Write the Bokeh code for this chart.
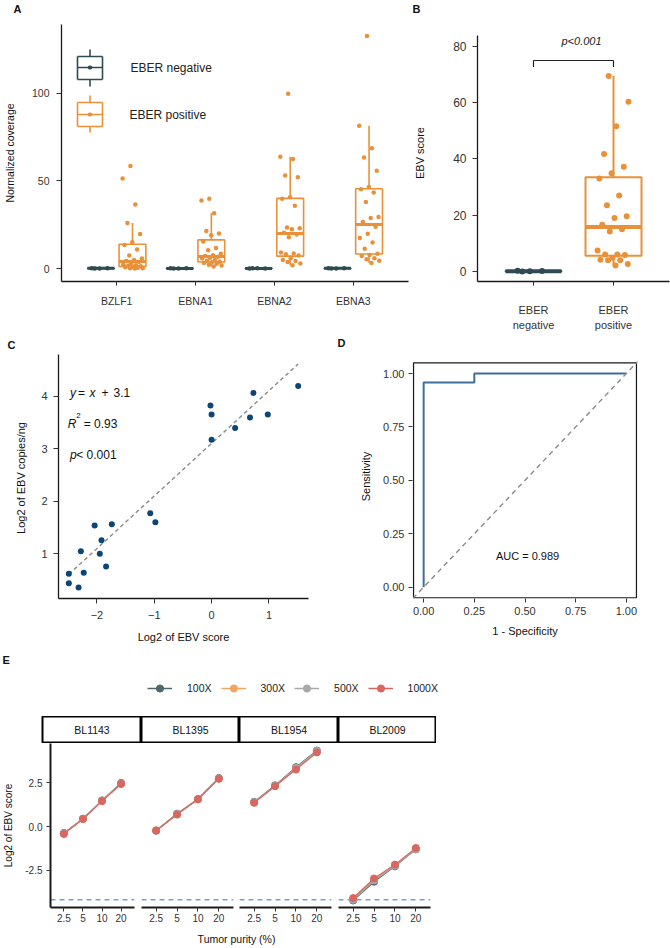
import numpy as np
from bokeh.plotting import figure
from bokeh.models import (ColumnDataSource, FactorRange, Range1d, Label, Arrow, Span, Slope,
                          Legend, LegendItem, FixedTicker, PrintfTickFormatter, CategoricalAxis,
                          CustomJSTickFormatter, BoxAnnotation)
from bokeh.layouts import row, column
from bokeh.core.properties import value
from bokeh.embed import file_html
from bokeh.resources import INLINE

# ---------------- data ----------------
genes = ["BZLF1", "EBNA1", "EBNA2", "EBNA3"]
eber_groups = ["EBER negative", "EBER positive"]

# Panel A: normalized coverage (EBER negative / EBER positive)
neg_bzlf1 = [0.05, 0.25, 0.10, 0.30]
neg_ebna1 = [0.10, 0.30, 0.05, 0.20]
neg_ebna2 = [0.20, 0.05, 0.30, 0.10]
neg_ebna3 = [0.15, 0.25, 0.05, 0.30]
pos_bzlf1 = [58.4, 51.4, 36.5, 26.0, 19.8, 15.0, 13.5, 10.9, 7.5, 5.8, 5.0, 4.4,
             3.8, 3.0, 2.5, 2.0, 1.7, 1.4, 1.0, 0.8, 0.5, 0.3, 0.2, 0.1]
pos_ebna1 = [39.8, 38.8, 31.5, 21.5, 20.0, 19.0, 15.5, 11.8, 10.5, 8.5, 7.6, 7.2,
             6.8, 6.2, 5.8, 5.0, 4.5, 3.9, 3.6, 3.2, 2.8, 2.3, 1.8, 1.2]
pos_ebna2 = [99.6, 63.7, 62.5, 53.1, 52.0, 40.6, 39.8, 35.8, 23.5, 23.0, 22.5, 20.5,
             19.5, 17.9, 9.2, 8.7, 8.2, 7.5, 6.0, 5.0, 4.3, 3.8, 3.0, 2.0]
pos_ebna3 = [132.4, 81.4, 68.5, 63.3, 55.8, 46.5, 45.2, 43.3, 38.0, 29.4, 28.8, 26.5,
             23.9, 19.9, 17.5, 14.9, 11.3, 8.5, 7.8, 7.2, 6.0, 5.3, 4.5, 3.2]

# Panel B: EBV score
ebv_score_neg = [0.05, 0.20, 0.10, 0.30]
ebv_score_pos = [69.4, 60.3, 51.6, 41.7, 37.2, 34.9, 33.0, 27.0, 23.5, 19.6, 19.0, 16.6,
                 15.0, 14.2, 7.5, 6.1, 6.1, 5.9, 4.9, 4.2, 4.0, 4.0, 2.7, 2.2]
p_value_text = "p<0.001"

# Panel C: log2 EBV score vs log2 EBV copies/ng
log2_ebv_score = [1.51, 0.73, -0.02, 0.00, 0.98, 0.67, 0.41, 0.00, -1.07, -0.98,
                  -1.74, -2.04, -1.92, -2.28, -1.95, -1.84, -2.23, -2.49, -2.49, -2.32]
log2_copies = [4.19, 4.06, 3.82, 3.65, 3.65, 3.59, 3.39, 3.17, 1.77, 1.60,
               1.56, 1.54, 1.26, 1.05, 1.00, 0.76, 0.64, 0.62, 0.44, 0.36]
fit_slope = 1.0
fit_intercept = 3.1
fit_r2 = 0.93

# Panel D: ROC
roc_fpr = [0.0, 0.0, 0.25, 0.25, 1.0]
roc_tpr = [0.0, 0.958, 0.958, 1.0, 1.0]
roc_auc = 0.989

# Panel E: dilution series
samples = ["BL1143", "BL1395", "BL1954", "BL2009"]
purities = ["2.5", "5", "10", "20"]
coverages = ["100X", "300X", "500X", "1000X"]
e_bl1143 = {"100X": [-0.36, 0.45, 1.50, 2.50], "300X": [-0.40, 0.44, 1.47, 2.45],
            "500X": [-0.38, 0.46, 1.49, 2.47], "1000X": [-0.42, 0.43, 1.46, 2.44]}
e_bl1395 = {"100X": [-0.22, 0.74, 1.58, 2.78], "300X": [-0.20, 0.70, 1.57, 2.74],
            "500X": [-0.24, 0.72, 1.56, 2.76], "1000X": [-0.23, 0.69, 1.56, 2.73]}
e_bl1954 = {"100X": [1.42, 2.36, 3.40, 4.35], "300X": [1.38, 2.32, 3.30, 4.28],
            "500X": [1.40, 2.34, 3.36, 4.33], "1000X": [1.36, 2.31, 3.26, 4.24]}
e_bl2009 = {"100X": [-4.22, -3.15, -2.27, -1.30], "300X": [-4.12, -3.02, -2.20, -1.26],
            "500X": [-4.18, -3.08, -2.24, -1.29], "1000X": [-4.08, -2.96, -2.17, -1.22]}
lod_log2 = -4.18

# ---------------- style ----------------
FONT = "Liberation Sans"
NARROW = "'Liberation Sans Narrow', 'Liberation Sans', sans-serif"
NEG = "#2F4B52"
POS = "#E8913A"
DOT = "#0B4677"
ROC_C = "#3F6F97"
COV_COLORS = ["#4E666C", "#F0A560", "#A8A8A8", "#D9665F"]
LOD_COLOR = "#6E9FE6"

try:
    Label(x=0, y=0, x_units="canvas", y_units="canvas")
    Arrow(x_start=0, y_start=0, x_end=1, y_end=1, start_units="canvas", end_units="canvas", end=None)
    CANVAS = True
except Exception:
    CANVAS = False


class Geo:
    def __init__(self, left, top, fh):
        self.left, self.top, self.fh = left, top, fh

    def xy(self, cx, cy):
        if CANVAS:
            return cx, cy, "canvas"
        return cx - self.left, self.top + self.fh - cy, "screen"


def put_label(p, geo, cx, cy, text, size, style="normal", align="left", baseline="top",
              color="#111111", font=FONT):
    x, y, u = geo.xy(cx, cy)
    p.add_layout(Label(x=x, y=y, x_units=u, y_units=u, text=text, text_font=font,
                       text_font_size=f"{size}px", text_font_style=style, text_align=align,
                       text_baseline=baseline, text_color=color))


def put_line(p, geo, x0, y0, x1, y1, color, lw, cap="butt"):
    a, b, u = geo.xy(x0, y0)
    c, d, _ = geo.xy(x1, y1)
    p.add_layout(Arrow(x_start=a, y_start=b, x_end=c, y_end=d, start_units=u, end_units=u,
                       end=None, line_color=color, line_width=lw, line_cap=cap))


def base_fig(**kw):
    p = figure(output_backend="svg", toolbar_location=None, **kw)
    p.xgrid.visible = False
    p.ygrid.visible = False
    p.background_fill_color = "white"
    p.border_fill_color = "white"
    return p


def blank_fig(width, height):
    return base_fig(width=width, height=height, x_range=Range1d(0, 1), y_range=Range1d(0, 1),
                    x_axis_location=None, y_axis_location=None, min_border=0,
                    outline_line_color=None)


def style_axes(p, tick_size, title_size, line_w=1.3, font=FONT):
    for ax in p.axis:
        ax.major_label_text_font = font
        ax.major_label_text_font_size = f"{tick_size}px"
        ax.major_label_text_color = "#333333"
        ax.axis_label_text_font = font
        ax.axis_label_text_font_size = f"{title_size}px"
        ax.axis_label_text_font_style = "normal"
        ax.axis_label_text_color = "#111111"
        ax.axis_line_color = "#1a1a1a"
        ax.axis_line_width = line_w
        ax.major_tick_line_color = "#333333"
        ax.major_tick_line_width = 1
        ax.minor_tick_line_color = None
        ax.major_tick_in = 0


def box_stats(v):
    a = np.asarray(v, dtype=float)
    q1, med, q3 = np.percentile(a, [25, 50, 75])
    iqr = q3 - q1
    lo = float(a[a >= q1 - 1.5 * iqr].min())
    hi = float(a[a <= q3 + 1.5 * iqr].max())
    return float(q1), float(med), float(q3), lo, hi


def boxplot(p, cats, vals, off, bw, jhalf, color, lw, mlw, psize, phase):
    x, xl, xr, q1s, meds, q3s, los, his = [], [], [], [], [], [], [], []
    for c, v in zip(cats, vals):
        q1, med, q3, lo, hi = box_stats(v)
        x.append((c, off)); xl.append((c, off - bw / 2)); xr.append((c, off + bw / 2))
        q1s.append(q1); meds.append(med); q3s.append(q3); los.append(lo); his.append(hi)
    src = ColumnDataSource(dict(x=x, xl=xl, xr=xr, q1=q1s, med=meds, q3=q3s, lo=los, hi=his))
    p.segment(x0="x", y0="q3", x1="x", y1="hi", source=src, line_color=color, line_width=lw)
    p.segment(x0="x", y0="q1", x1="x", y1="lo", source=src, line_color=color, line_width=lw)
    p.vbar(x="x", width=bw, bottom="q1", top="q3", source=src, fill_color="white",
           line_color=color, line_width=lw)
    p.segment(x0="xl", y0="med", x1="xr", y1="med", source=src, line_color=color, line_width=mlw)
    px, py = [], []
    for c, v in zip(cats, vals):
        for i, val in enumerate(v):
            frac = (i * 0.6180339887 + phase) % 1.0
            px.append((c, off + (frac - 0.5) * 2 * jhalf))
            py.append(val)
    p.scatter(x=px, y=py, size=psize, fill_color=color, line_color=None)


# ---------------- panel letters rows ----------------
let1 = blank_fig(670, 16)
put_label(let1, Geo(0, 0, 16), 13, 2, "A", 11, style="bold")
put_label(let1, Geo(0, 0, 16), 412, 2, "B", 11, style="bold")
let2 = blank_fig(670, 16)
put_label(let2, Geo(0, 0, 16), 7, 5, "C", 11, style="bold")
put_label(let2, Geo(0, 0, 16), 337, 3, "D", 11, style="bold")

# ---------------- Panel A ----------------
pA = base_fig(width=410, height=317,
              x_range=FactorRange(factors=genes, range_padding=0.2, range_padding_units="absolute"),
              y_range=Range1d(-7.3, 139), min_border_left=58, min_border_right=2,
              min_border_top=8, min_border_bottom=50, outline_line_color=None)
boxplot(pA, genes, [neg_bzlf1, neg_ebna1, neg_ebna2, neg_ebna3], -0.2, 0.34, 0.13, NEG, 1.6, 3, 4.5, 0.2)
boxplot(pA, genes, [pos_bzlf1, pos_ebna1, pos_ebna2, pos_ebna3], 0.2, 0.34, 0.13, POS, 1.6, 3, 4.5, 0.4)
style_axes(pA, 10.5, 10.5)
pA.yaxis.ticker = FixedTicker(ticks=[0, 50, 100])
pA.yaxis.axis_label = "Normalized coverage"
pA.yaxis.major_tick_out = 5
pA.yaxis.major_label_standoff = 7
pA.yaxis.axis_label_standoff = 13
pA.xaxis.major_tick_out = 4
pA.xaxis.major_label_standoff = 9
gA = Geo(58, 8, 259)
for (y0, y1, wy0, wy1, my, col, txt, tx) in [(40, 63, 33, 70, 51, NEG, eber_groups[0], 130),
                                             (86, 110, 79, 116, 98, POS, eber_groups[1], 129)]:
    x0, x1, xm = 77, 102, 89.5
    put_line(pA, gA, xm, wy0, xm, y0, col, 1.6)
    put_line(pA, gA, xm, y1, xm, wy1, col, 1.6)
    put_line(pA, gA, x0, y0, x1, y0, col, 1.6)
    put_line(pA, gA, x0, y1, x1, y1, col, 1.6)
    put_line(pA, gA, x0, y0, x0, y1, col, 1.6)
    put_line(pA, gA, x1, y0, x1, y1, col, 1.6)
    put_line(pA, gA, x0, my, x1, my, col, 1.6)
    put_line(pA, gA, xm - 0.3, my, xm + 0.3, my, col, 4, cap="round")
    put_label(pA, gA, tx, my, txt, 12, baseline="middle", color="#222222")

# ---------------- Panel B ----------------
pB = base_fig(width=260, height=317,
              x_range=FactorRange(factors=eber_groups, range_padding=0.2, range_padding_units="absolute"),
              y_range=Range1d(-3.52, 87.68), min_border_left=67, min_border_right=1,
              min_border_top=8, min_border_bottom=50, outline_line_color=None)
boxplot(pB, [eber_groups[0]], [ebv_score_neg], 0.0, 0.7, 0.2, NEG, 2, 4, 6, 0.15)
boxplot(pB, [eber_groups[1]], [ebv_score_pos], 0.0, 0.7, 0.2, POS, 2, 4, 6, 0.35)
y_br = max(ebv_score_pos) + 5.5
pB.segment(x0=[eber_groups[0], eber_groups[0], eber_groups[1]], y0=[y_br - 2.3, y_br, y_br],
           x1=[eber_groups[0], eber_groups[1], eber_groups[1]], y1=[y_br, y_br, y_br - 2.3],
           line_color="#222222", line_width=1.2)
pB.text(x=[(eber_groups[0], 0.6)], y=[y_br + 7], text=[p_value_text], text_font=value(FONT),
        text_font_size="11px", text_font_style="italic", text_align="center",
        text_baseline="middle", text_color="#222222")
style_axes(pB, 12, 11)
pB.yaxis.ticker = FixedTicker(ticks=[0, 20, 40, 60, 80])
pB.yaxis.bounds = (-3.52, 83.8)
pB.yaxis.axis_label = "EBV score"
pB.yaxis.major_tick_out = 5
pB.yaxis.major_label_standoff = 6
pB.yaxis.axis_label_standoff = 24
pB.xaxis.major_tick_out = 4
pB.xaxis.major_label_standoff = 18
pB.xaxis.major_label_text_font_size = "11px"
pB.xaxis.formatter = CustomJSTickFormatter(code="return String(tick).split(' ')[0];")
x2 = CategoricalAxis(formatter=CustomJSTickFormatter(code="return String(tick).split(' ')[1];"),
                     axis_line_color=None, major_tick_line_color=None, minor_tick_line_color=None,
                     major_tick_out=0, major_tick_in=0, major_label_standoff=0,
                     major_label_text_font=FONT, major_label_text_font_size="11px",
                     major_label_text_color="#333333")
pB.add_layout(x2, "below")

# ---------------- Panel C ----------------
pC = base_fig(width=330, height=296, x_range=Range1d(-2.67, 1.69), y_range=Range1d(0.15, 4.79),
              min_border_left=58, min_border_right=22, min_border_top=5, min_border_bottom=44,
              outline_line_color=None)
xfit = [min(log2_ebv_score), max(log2_ebv_score)]
yfit = [fit_slope * v + fit_intercept for v in xfit]
pC.line(x=xfit, y=yfit, line_color="#8a8a8a", line_dash="4 3", line_width=1.4)
pC.scatter(x=log2_ebv_score, y=log2_copies, size=6, fill_color=DOT, line_color=None)
style_axes(pC, 11, 11)
pC.xaxis.ticker = FixedTicker(ticks=[-2, -1, 0, 1])
pC.yaxis.ticker = FixedTicker(ticks=[1, 2, 3, 4])
pC.xaxis.axis_label = "Log2 of EBV score"
pC.yaxis.axis_label = "Log2 of  EBV copies/ng"
pC.yaxis.major_tick_out = 5
pC.yaxis.major_label_standoff = 6
pC.yaxis.axis_label_standoff = 11
pC.xaxis.major_tick_out = 5
pC.xaxis.major_label_standoff = 7
pC.xaxis.axis_label_standoff = 9


def dlabel(p, x, y, text, size=12, style="normal", align="left"):
    p.add_layout(Label(x=x, y=y, text=text, text_font=FONT, text_font_size=f"{size}px",
                       text_font_style=style, text_align=align, text_baseline="middle",
                       text_color="#111111"))


dlabel(pC, -2.47, 4.06, "y", style="italic")
dlabel(pC, -2.33, 4.06, "=")
dlabel(pC, -2.13, 4.06, "x", style="italic")
dlabel(pC, -1.92, 4.06, "+")
dlabel(pC, -1.71, 4.06, f"{fit_intercept:.1f}")
dlabel(pC, -2.51, 3.46, "R", style="italic")
dlabel(pC, -2.36, 3.63, "2", size=8)
dlabel(pC, -2.23, 3.46, f"= {fit_r2:.2f}")
dlabel(pC, -2.47, 2.87, "p", style="italic")
dlabel(pC, -2.36, 2.87, "< 0.001")

# ---------------- Panel D ----------------
pD = base_fig(width=340, height=296,
              x_range=Range1d(-0.055, 1.055), y_range=Range1d(-0.053, 1.089),
              min_border_left=82, min_border_right=33, min_border_top=5, min_border_bottom=44,
              outline_line_color=None)
pD.add_layout(BoxAnnotation(left=-0.05, right=1.05, bottom=-0.05, top=1.05, fill_alpha=0,
                            fill_color=None, line_color="#1a1a1a", line_width=1.3, line_alpha=1,
                            level="underlay"))
pD.add_layout(Slope(gradient=1, y_intercept=0, line_color="#8a8a8a", line_dash="5 4", line_width=1.4))
pD.line(x=roc_fpr, y=roc_tpr, line_color=ROC_C, line_width=2)
style_axes(pD, 11, 11)
for ax in pD.axis:
    ax.axis_line_color = None
    ax.ticker = FixedTicker(ticks=[0, 0.25, 0.5, 0.75, 1.0])
    ax.formatter = PrintfTickFormatter(format="%.2f")
    ax.major_tick_out = 4
    ax.major_label_standoff = 4
pD.yaxis.axis_label = "Sensitivity"
pD.xaxis.axis_label = "1 - Specificity"
pD.yaxis.axis_label_standoff = 8
pD.xaxis.axis_label_standoff = 7
pD.add_layout(Label(x=0.52, y=0.145, text=f"AUC =  {roc_auc:.3f}", text_font=FONT,
                    text_font_size="11px", text_align="center", text_baseline="middle",
                    text_color="#111111"))

# ---------------- Panel E ----------------
e_data = {"BL1143": e_bl1143, "BL1395": e_bl1395, "BL1954": e_bl1954, "BL2009": e_bl2009}
EL, PW = 42, 92
GAPS = [7, 6, 7, 6]
E_YR = (-4.62, 4.75)

# legend strip (its renderers carry the BL1143 series, drawn outside the visible y-range)
lf = base_fig(width=670, height=71, x_range=FactorRange(factors=purities),
              y_range=Range1d(E_YR[1] + 50, E_YR[1] + 60),
              x_axis_location=None, y_axis_location=None, min_border=0, outline_line_color=None)
items = []
for cov, col in zip(coverages, COV_COLORS):
    r1 = lf.line(x=purities, y=e_bl1143[cov], line_color=col, line_width=1.5)
    r2 = lf.scatter(x=purities, y=e_bl1143[cov], size=7, fill_color=col, line_color=col)
    items.append(LegendItem(label=cov, renderers=[r1, r2]))
leg = Legend(items=items, orientation="horizontal", location=(147, 19), glyph_width=25,
             glyph_height=18, label_standoff=15, spacing=9, border_line_color=None,
             background_fill_alpha=0, label_text_font=NARROW, label_text_font_size="10.5px",
             label_text_color="#222222", padding=0, margin=0)
lf.add_layout(leg, "center")
put_label(lf, Geo(0, 0, 71), 2, 8, "E", 11, style="bold")

strips, panels = [], []
for k, s in enumerate(samples):
    left = EL if k == 0 else 0
    gap = GAPS[k]
    sf = base_fig(width=left + PW + gap, height=27, x_range=FactorRange(factors=[s]),
                  y_range=Range1d(0, 1), x_axis_location=None, y_axis_location=None,
                  min_border_left=left, min_border_right=0, min_border_top=0, min_border_bottom=0,
                  outline_line_color="black", outline_line_width=2)
    sf.text(x=[s], y=[0.5], text=[s], text_font=value(NARROW), text_font_size="10.5px",
            text_align="center", text_baseline="middle", text_color="#111111")
    strips.append(sf)

    q = base_fig(width=left + PW + gap, height=185,
                 x_range=FactorRange(factors=purities, range_padding=0.2, range_padding_units="absolute"),
                 y_range=Range1d(*E_YR), min_border_left=left, min_border_right=gap,
                 min_border_top=0, min_border_bottom=21, outline_line_color=None,
                 y_axis_location="left" if k == 0 else None)
    q.add_layout(Span(location=lod_log2, dimension="width", line_color=LOD_COLOR,
                      line_dash="5 4", line_width=1.4, level="underlay"))
    for cov, col in zip(coverages, COV_COLORS):
        q.line(x=purities, y=e_data[s][cov], line_color=col, line_width=1.2)
        q.scatter(x=purities, y=e_data[s][cov], size=7, fill_color=col, line_color=col)
    style_axes(q, 10, 10, line_w=2, font=NARROW)
    q.xaxis.major_tick_out = 4
    q.xaxis.major_label_standoff = 2
    if k == 0:
        q.yaxis.ticker = FixedTicker(ticks=[-2.5, 0, 2.5])
        q.yaxis.formatter = PrintfTickFormatter(format="%.1f")
        q.yaxis.axis_label = "Log2 of EBV score"
        q.yaxis.major_tick_out = 4
        q.yaxis.major_label_standoff = 4
        q.yaxis.axis_label_standoff = 8
    panels.append(q)

xl = blank_fig(670, 20)
put_label(xl, Geo(0, 0, 20), 236, 10, "Tumor purity (%)", 10.5, align="center",
          baseline="middle", font=NARROW)

layout = column(let1, row(pA, pB), let2, row(pC, pD), lf, row(*strips), row(*panels), xl)

with open("out.html", "w") as f:
    f.write(file_html(layout, INLINE, "EBV figure"))
